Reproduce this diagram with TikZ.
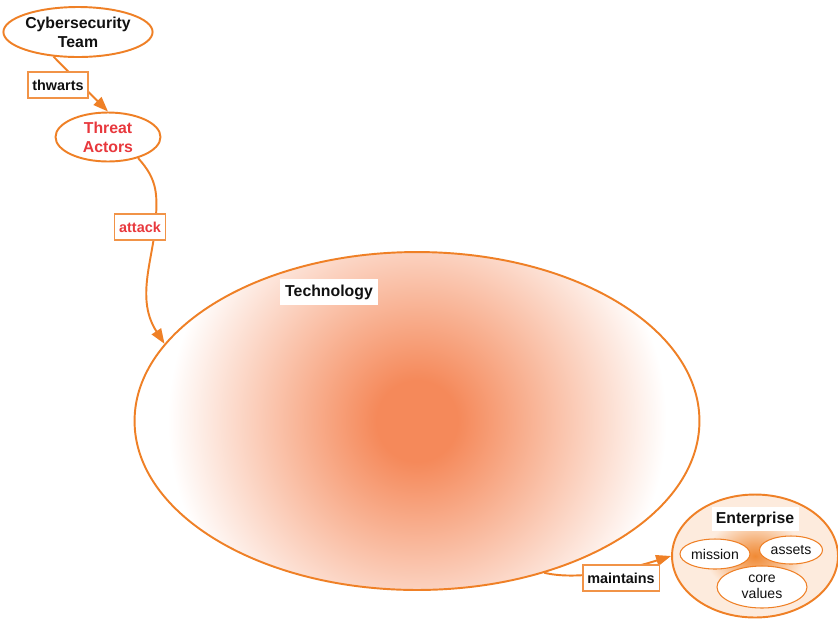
\documentclass[tikz,border=0pt]{standalone}
\usepackage{fontspec}
\setmainfont{Liberation Sans}
\usetikzlibrary{arrows.meta,shapes.geometric}
\definecolor{Flame}{HTML}{EF8026}
\definecolor{Alert}{HTML}{E8383D}
\definecolor{Ink}{HTML}{111111}
\definecolor{TechCore}{HTML}{F5895A}
\definecolor{EntCore}{HTML}{F08A35}
\definecolor{EntRim}{HTML}{FDEBDD}
\pgfdeclareradialshading{techglow}{\pgfpoint{0bp}{0bp}}{color(0bp)=(TechCore); color(3.5bp)=(TechCore); color(21.5bp)=(white); color(50bp)=(white)}
\pgfdeclareradialshading{entglow}{\pgfpoint{0bp}{0bp}}{color(0bp)=(EntCore); color(5bp)=(EntCore!70!EntRim); color(15bp)=(EntRim); color(50bp)=(EntRim)}

\begin{document}
\begin{tikzpicture}[x=0.02cm,y=-0.02cm,font=\fontsize{9}{10.8}\selectfont\bfseries,every node/.style={text=Ink},actor/.style={ellipse,draw=Flame,line width=1.1pt,fill=white,inner sep=0pt,align=center},verb/.style={rectangle,draw=Flame!85,line width=0.6pt,fill=white,inner xsep=2.5pt,inner ysep=0pt,minimum height=0.52cm,font=\fontsize{8.2}{10}\selectfont\bfseries},part/.style={ellipse,draw=Flame,line width=0.6pt,fill=white,inner sep=0pt,align=center,font=\fontsize{8}{9.4}\selectfont},link/.style={draw=Flame,line width=1.1pt,-{Triangle[length=3mm,width=2.2mm]}}]
\useasboundingbox[fill=white] (0,0) rectangle (838,620);
\node[actor,minimum width=2.9cm,minimum height=1.0cm] (cyber) at (78,32) {Cybersecurity\\Team};
\node[actor,minimum width=2.1cm,minimum height=0.98cm,text=Alert] (threat) at (108,137) {Threat\\Actors};
\node[ellipse,draw=Flame,line width=1.1pt,fill=white,minimum width=11.3cm,minimum height=6.76cm,path picture={\shade[shading=techglow] (path picture bounding box.center) circle (5.8cm);}] (tech) at (417,421) {};
\node[fill=white,inner sep=3pt] (techlbl) at (329,292) {Technology};
\node[ellipse,draw=Flame,line width=1.1pt,shade,shading=entglow,minimum width=3.32cm,minimum height=2.46cm] (ent) at (755,556) {};
\node[fill=white,inner sep=2.5pt] (entlbl) at (755,519) {Enterprise};
\node[part,minimum width=1.4cm,minimum height=0.6cm] (mission) at (715,554) {mission};
\node[part,minimum width=1.26cm,minimum height=0.56cm] (assets) at (791,550) {assets};
\node[part,minimum width=1.8cm,minimum height=0.84cm] (values) at (762,587) {core\\values};
\draw[link] (cyber.225) -- (threat.north);
\draw[link] (threat.-35) .. controls (158,180) and (158,195) .. (155,228) .. controls (152,262) and (136,300) .. (tech.163);
\draw[link] (tech.-50) .. controls (575,580) and (620,572) .. (ent.west);
\node[verb] (thwarts) at (58,85) {thwarts};
\node[verb,text=Alert] (attack) at (140,227) {attack};
\node[verb] (maintains) at (621,578) {maintains};
\end{tikzpicture}
\end{document}
